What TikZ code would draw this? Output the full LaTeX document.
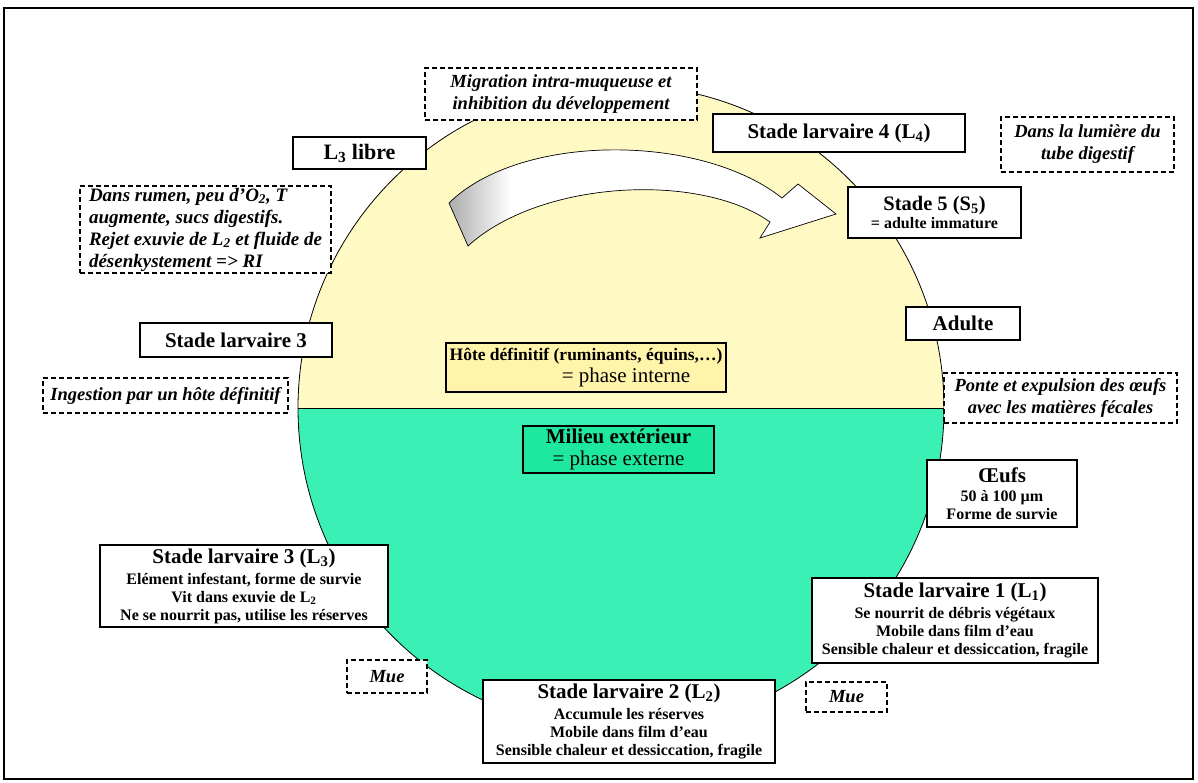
\documentclass[tikz,border=0pt]{standalone}
\usepackage{fontspec}
\setmainfont{Liberation Serif}
\definecolor{hostyellow}{RGB}{255,250,196}
\definecolor{hostbox}{RGB}{255,244,170}
\definecolor{outgreen}{RGB}{58,240,180}
\definecolor{outbox}{RGB}{30,232,160}
\newcommand\hdfont{\fontsize{21}{23}\selectfont}
\newcommand\smfont{\fontsize{16}{18}\selectfont}
\newcommand\itfont{\fontsize{18.5}{22}\selectfont}
\pgfdeclarehorizontalshading{arrowshade}{100bp}{color(0bp)=(gray!65); color(25bp)=(gray!65); color(33bp)=(white); color(100bp)=(white)}
\begin{document}
\begin{tikzpicture}[x=1pt,y=-1pt,
  solidbox/.style={draw,line width=1.4pt,fill=white,align=center,inner sep=2pt,font=\bfseries\smfont},
  dashbox/.style={draw,dash pattern=on 5pt off 3pt,line width=1.5pt,fill=white,align=center,inner sep=2pt,font=\bfseries\itshape\itfont},
  ]
\useasboundingbox (0,0) rectangle (1198,782);
\draw[line width=1.6pt] (4,8) rectangle (1193,779);
% circle halves
\begin{scope}
  \clip (0,0) rectangle (1198,408);
  \fill[hostyellow] (621,408) circle[radius=323pt];
\end{scope}
\begin{scope}
  \clip (0,408) rectangle (1198,782);
  \fill[outgreen] (621,408) circle[radius=323pt];
\end{scope}
\draw[line width=0.8pt] (621,408) circle[radius=323pt];
\draw[line width=0.8pt] (298,408) -- (944,408);
% curved arrow
\draw[line width=0.7pt,shading=arrowshade]
  (449,203) .. controls (520,133) and (700,133) .. (782,198) -- (798,184) -- (836,214)
  -- (760,238) -- (770,222) .. controls (700,172) and (540,180) .. (468,246) -- cycle;
% dashed boxes
\node[dashbox,minimum width=272pt,minimum height=52pt] (mig) at (561,94)
  {Migration intra-muqueuse et\\inhibition du développement};
\node[dashbox,minimum width=173pt,minimum height=55pt] (lum) at (1087.5,144.5)
  {Dans la lumière du\\tube digestif};
\node[dashbox,minimum width=251pt,minimum height=87pt,align=left,font=\bfseries\itshape\fontsize{19}{22}\selectfont] (rumen) at (205.5,229.5)
  {Dans rumen, peu d'O\textsubscript{2}, T\\augmente, sucs digestifs.\\Rejet exuvie de L\textsubscript{2} et fluide de\\désenkystement => RI};
\node[dashbox,minimum width=245pt,minimum height=35pt] (ing) at (165.5,395.5)
  {Ingestion par un hôte définitif};
\node[dashbox,minimum width=233pt,minimum height=50pt] (ponte) at (1060.5,398)
  {Ponte et expulsion des œufs\\avec les matières fécales};
\node[dashbox,minimum width=80pt,minimum height=33pt] (muel) at (387,676.5) {Mue};
\node[dashbox,minimum width=81pt,minimum height=30pt] (muer) at (846.5,697) {Mue};
% solid boxes
\node[solidbox,minimum width=252pt,minimum height=38pt,font=\bfseries\hdfont] (L4) at (839,133)
  {Stade larvaire 4 (L\textsubscript{4})};
\node[solidbox,minimum width=133pt,minimum height=32pt,font=\bfseries\fontsize{22}{24}\selectfont] (L3libre) at (359.5,153)
  {L\textsubscript{3} libre};
\node[solidbox,minimum width=173pt,minimum height=51pt] (S5) at (934.5,212.5)
  {{\fontsize{20.5}{22}\selectfont Stade 5 (S\textsubscript{5})}\\ = adulte immature};
\node[solidbox,minimum width=192pt,minimum height=34pt,font=\bfseries\hdfont] (SL3) at (236,340)
  {Stade larvaire 3};
\node[solidbox,minimum width=114pt,minimum height=33pt,font=\bfseries\hdfont] (adulte) at (963,323.5)
  {Adulte};
\node[draw,line width=1.2pt,fill=hostbox,align=center,minimum width=280pt,minimum height=49pt,inner sep=2pt,font=\fontsize{21}{22}\selectfont] (hote) at (586,367.5)
  {{\bfseries\fontsize{17.5}{19}\selectfont Hôte définitif (ruminants, équins,…)}\\\hspace*{80pt}= phase interne};
\node[draw,line width=1.2pt,fill=outbox,align=center,minimum width=191pt,minimum height=47pt,inner sep=2pt,font=\fontsize{21}{22}\selectfont] (milieu) at (618.5,449.5)
  {{\bfseries Milieu extérieur}\\= phase externe};
\node[solidbox,minimum width=150pt,minimum height=67pt] (oeufs) at (1002,493.5)
  {{\hdfont Œufs}\\[1pt]50 à 100 µm\\Forme de survie};
\node[solidbox,minimum width=288pt,minimum height=82pt] (L3) at (244,586)
  {{\hdfont Stade larvaire 3 (L\textsubscript{3})}\\[3pt]Elément infestant, forme de survie\\Vit dans exuvie de L\textsubscript{2}\\Ne se nourrit pas, utilise les réserves};
\node[solidbox,minimum width=286pt,minimum height=85pt] (L1) at (955,620.5)
  {{\hdfont Stade larvaire 1 (L\textsubscript{1})}\\[3pt]Se nourrit de débris végétaux\\Mobile dans film d’eau\\Sensible chaleur et dessiccation, fragile};
\node[solidbox,minimum width=292pt,minimum height=83pt] (L2) at (629,721.5)
  {{\hdfont Stade larvaire 2 (L\textsubscript{2})}\\[3pt]Accumule les réserves\\Mobile dans film d’eau\\Sensible chaleur et dessiccation, fragile};
\end{tikzpicture}
\end{document}
